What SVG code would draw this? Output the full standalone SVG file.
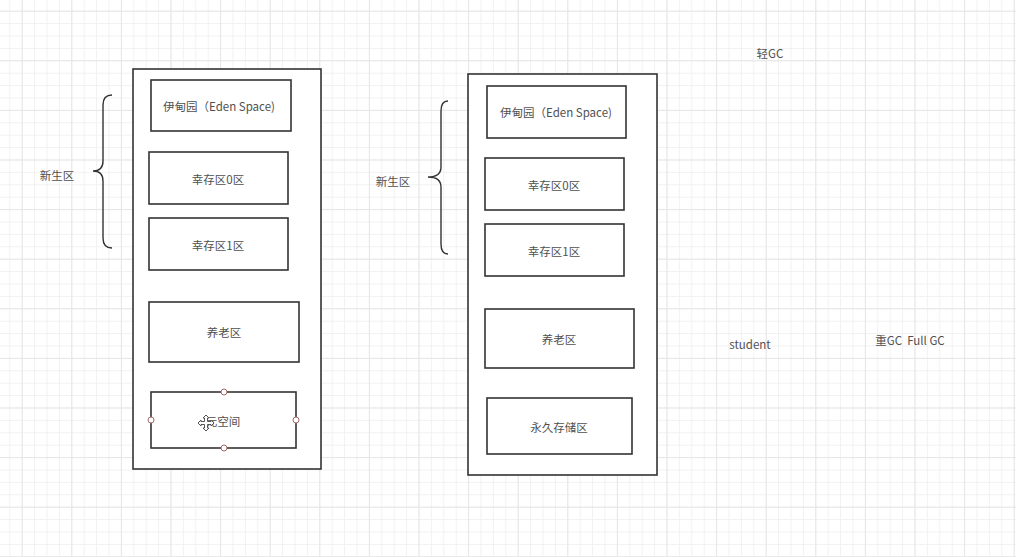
<svg xmlns="http://www.w3.org/2000/svg" width="1016" height="557" viewBox="0 0 1016 557">
<defs>
<pattern id="minor" x="9.3" y="10.7" width="12.4" height="12.4" patternUnits="userSpaceOnUse">
<path d="M0,0.5 H12.4 M0.5,0 V12.4" stroke="#f1f1f1" stroke-width="1" fill="none"/>
</pattern>
<pattern id="major" x="21.7" y="10.7" width="49.6" height="49.6" patternUnits="userSpaceOnUse">
<path d="M0,0.5 H49.6 M0.5,0 V49.6" stroke="#e6e6e6" stroke-width="1" fill="none"/>
</pattern>
</defs>
<style>
.box{fill:#fff;stroke:#333;stroke-width:1.6}
.outer{fill:#fff;stroke:#333;stroke-width:1.6}
.t{font-family:"Noto Sans CJK SC","Liberation Sans",sans-serif;font-size:11.5px;fill:#505050;text-anchor:middle;dominant-baseline:central}
.brace{fill:none;stroke:#333;stroke-width:1.4}
.handle{fill:#fff;stroke:#a86a6a;stroke-width:1}
</style>
<rect width="1016" height="557" fill="#fff"/>
<rect width="1016" height="557" fill="url(#minor)"/>
<rect width="1016" height="557" fill="url(#major)"/>

<g id="connectors">
<path class="brace" d="M112,95 Q103,95 103,105 L103,161 Q103,171 93,171 Q103,171 103,181 L103,238 Q103,248 112,248"/>
<path class="brace" d="M448,101 Q441,101 441,111 L441,167 Q441,177 428,177 Q441,177 441,187 L441,244 Q441,254 448,254"/>
</g>

<g id="label-young-left"><text class="t" x="57" y="175">新生区</text></g>
<g id="label-young-right"><text class="t" x="393" y="181">新生区</text></g>

<g id="heap-left">
<rect class="outer" x="133" y="69" width="188" height="400"/>
</g>
<g id="eden-left"><rect class="box" x="151" y="80" width="140" height="51"/><text class="t" x="219" y="106">伊甸园（Eden Space)</text></g>
<g id="s0-left"><rect class="box" x="149" y="152" width="139" height="52"/><text class="t" x="218" y="179">幸存区0区</text></g>
<g id="s1-left"><rect class="box" x="149" y="218" width="139" height="52"/><text class="t" x="218" y="245">幸存区1区</text></g>
<g id="old-left"><rect class="box" x="149" y="302" width="150" height="60"/><text class="t" x="224" y="332">养老区</text></g>
<g id="meta-left">
<rect class="box" x="151" y="392" width="145" height="56"/>
<text class="t" x="223" y="421">元空间</text>
<circle class="handle" cx="224" cy="392" r="3"/>
<circle class="handle" cx="224" cy="448" r="3"/>
<circle class="handle" cx="151" cy="420" r="3"/>
<circle class="handle" cx="296" cy="420" r="3"/>
<path d="M206,415 L209,418 L207.5,418 L207.5,421.5 L211,421.5 L211,420 L214,423 L211,426 L211,424.5 L207.5,424.5 L207.5,428 L209,428 L206,431 L203,428 L204.5,428 L204.5,424.5 L201,424.5 L201,426 L198,423 L201,420 L201,421.5 L204.5,421.5 L204.5,418 L203,418 Z" fill="#fff" stroke="#555" stroke-width="1"/>
</g>

<g id="heap-right">
<rect class="outer" x="468" y="74" width="189" height="401"/>
</g>
<g id="eden-right"><rect class="box" x="487" y="86" width="139" height="52"/><text class="t" x="556" y="112">伊甸园（Eden Space)</text></g>
<g id="s0-right"><rect class="box" x="485" y="158" width="139" height="52"/><text class="t" x="554" y="185">幸存区0区</text></g>
<g id="s1-right"><rect class="box" x="485" y="224" width="139" height="52"/><text class="t" x="554" y="251">幸存区1区</text></g>
<g id="old-right"><rect class="box" x="485" y="309" width="149" height="59"/><text class="t" x="559" y="339">养老区</text></g>
<g id="perm-right"><rect class="box" x="487" y="398" width="145" height="56"/><text class="t" x="559" y="427">永久存储区</text></g>

<g id="label-minor-gc"><text class="t" x="770" y="53">轻GC</text></g>
<g id="label-student"><text class="t" x="750" y="344">student</text></g>
<g id="label-full-gc"><text class="t" x="910" y="340" xml:space="preserve">重GC  Full GC</text></g>
</svg>
